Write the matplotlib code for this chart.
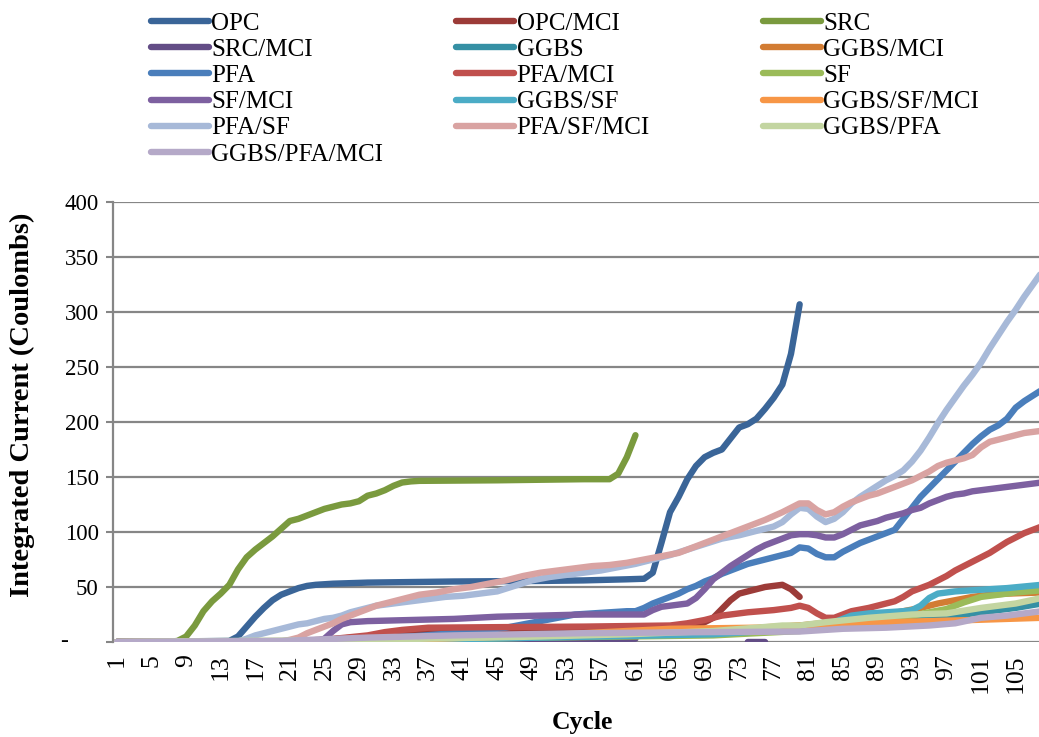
import numpy as np
import matplotlib
matplotlib.use("Agg")
import matplotlib.pyplot as plt
from matplotlib.lines import Line2D

plt.rcParams['font.family'] = ["Liberation Serif", "DejaVu Serif"]

# ---- data: (cycle, integrated current) ----
OPC_x = [1, 14, 15, 16, 17, 18, 19, 20, 21, 22, 23, 24, 26, 30, 40, 50, 55, 60, 62, 63, 64, 65, 66,
         67, 68, 69, 70, 71, 72, 73, 74, 75, 76, 77, 78, 79, 80]
OPC_y = [0, 1, 5, 14, 23, 31, 38, 43, 46, 49, 51, 52, 53, 54, 55, 55.5, 56, 57, 57.5, 63, 90, 118, 132,
         148, 160, 168, 172, 175, 185, 195, 198, 203, 212, 222, 234, 262, 307]

OPCMCI_x = [1, 20, 25, 30, 35, 40, 50, 60, 68, 69, 70, 71, 72, 73, 74, 75, 76, 77, 78, 79, 80]
OPCMCI_y = [0, 0.5, 2, 5, 9, 11, 12, 13, 14, 18, 22, 30, 38, 44, 46, 48, 50, 51, 52, 48, 41]

SRC_x = [1, 7, 8, 9, 10, 11, 12, 13, 14, 15, 16, 17, 18, 19, 20, 21, 22, 23, 24, 25, 26, 27, 28, 29,
         30, 31, 32, 33, 34, 35, 36, 45, 55, 58, 59, 60, 61]
SRC_y = [0, 0, 1, 5, 15, 28, 37, 44, 52, 66, 77, 84, 90, 96, 103, 110, 112, 115, 118, 121, 123, 125,
         126, 128, 133, 135, 138, 142, 145, 146, 146.5, 147, 148, 148, 153, 168, 188]

SRCMCI_x = [1, 20, 40, 61, 62, 73, 74, 75, 76]
SRCMCI_y = [0, 0.5, 1.5, 3, np.nan, np.nan, 0, 0, 0]

GGBS_x = [1, 20, 40, 60, 70, 80, 85, 90, 95, 100, 105, 108]
GGBS_y = [0, 0.5, 3, 6, 8, 11, 14, 17, 21, 26, 31, 35]

GGBSMCI_x = [1, 30, 50, 65, 75, 80, 85, 88, 90, 92, 94, 96, 98, 100, 102, 104, 108]
GGBSMCI_y = [0, 1, 5, 9, 12, 15, 19, 22, 25, 28, 31, 35, 38, 41, 43, 44, 45]

PFA_x = [1, 20, 30, 35, 40, 44, 46, 48, 50, 52, 54, 56, 58, 60, 61, 62, 63, 64, 65, 66, 67, 68, 69,
         70, 71, 72, 73, 74, 75, 76, 77, 78, 79, 80, 81, 82, 83, 84, 85, 86, 87, 88, 89, 90, 91, 92,
         93, 94, 95, 96, 97, 98, 99, 100, 101, 102, 103, 104, 105, 106, 107, 108]
PFA_y = [0, 0.5, 3, 5, 8, 11, 13, 16, 19, 22, 25, 26, 27, 28, 28, 31, 35, 38, 41, 44, 48, 51, 55,
         58, 62, 65, 68, 71, 73, 75, 77, 79, 81, 86, 85, 80, 77, 77, 82, 86, 90, 93, 96, 99, 102, 112,
         122, 132, 140, 148, 156, 164, 172, 180, 187, 193, 197, 203, 213, 219, 224, 229]

PFAMCI_x = [1, 20, 25, 30, 32, 34, 37, 45, 55, 65, 67, 69, 71, 74, 77, 79, 80, 81, 82, 83, 84, 85,
            86, 88, 90, 91, 92, 93, 95, 96, 97, 98, 99, 100, 101, 102, 103, 104, 105, 106, 107, 108]
PFAMCI_y = [0, 0.5, 2, 6, 9, 11, 13, 13.5, 14, 15, 17, 20, 24, 27, 29, 31, 33, 31, 26, 22, 22, 25,
            28, 31, 35, 37, 41, 46, 52, 56, 60, 65, 69, 73, 77, 81, 86, 91, 95, 99, 102, 105]

SF_x = [1, 30, 50, 70, 80, 85, 90, 93, 95, 97, 99, 101, 103, 105, 108]
SF_y = [0, 1, 4, 6, 10, 16, 21, 24, 27, 30, 36, 41, 43, 45, 47]

SFMCI_x = [1, 24, 25, 26, 27, 28, 30, 35, 40, 45, 50, 55, 62, 63, 64, 65, 66, 67, 68, 69, 70, 71,
           72, 73, 74, 75, 76, 77, 78, 79, 80, 81, 82, 83, 84, 85, 86, 87, 88, 89, 90, 91, 92, 93,
           94, 95, 96, 97, 98, 99, 100, 101, 102, 103, 104, 105, 106, 107, 108]
SFMCI_y = [0, 0.5, 3, 10, 16, 18, 19, 20, 21, 23, 24, 25, 25, 29, 32, 33, 34, 35, 40, 48, 57, 63,
           69, 74, 79, 84, 88, 91, 94, 97, 98, 98, 97, 95, 95, 98, 102, 106, 108, 110, 113, 115, 117,
           120, 122, 126, 129, 132, 134, 135, 137, 138, 139, 140, 141, 142, 143, 144, 145]

GGBSSF_x = [1, 30, 50, 70, 80, 83, 84, 85, 86, 88, 90, 92, 93, 94, 95, 96, 98, 100, 104, 108]
GGBSSF_y = [0, 1, 4, 7, 12, 14, 18, 21, 24, 26, 27, 28, 29, 33, 40, 44, 46, 47, 49, 52]

GGBSSFMCI_x = [1, 30, 50, 60, 65, 75, 80, 85, 95, 100, 108]
GGBSSFMCI_y = [0, 1, 6, 10, 12, 13, 15, 17, 19, 20, 22]

PFASF_x = [1, 15, 16, 17, 18, 19, 20, 21, 22, 23, 24, 25, 26, 27, 28, 29, 30, 31, 32, 33, 35, 37, 39,
           41, 43, 45, 47, 49, 51, 53, 55, 57, 59, 61, 63, 65, 67, 69, 71, 73, 75, 77, 78, 79, 80,
           81, 82, 83, 84, 85, 86, 87, 88, 89, 90, 91, 92, 93, 94, 95, 96, 97, 98, 99, 100, 101,
           102, 103, 104, 105, 106, 107, 108]
PFASF_y = [0, 0.5, 3, 6, 8, 10, 12, 14, 16, 17, 19, 21, 22, 24, 27, 29, 31, 33, 34, 35, 37, 39, 41,
           42, 44, 46, 51, 56, 59, 61, 63, 65, 68, 71, 75, 79, 84, 89, 94, 97, 101, 105, 109, 116, 122,
           121, 114, 109, 112, 118, 126, 132, 137, 142, 147, 151, 156, 164, 174, 186, 199, 211, 222,
           233, 243, 254, 267, 279, 291, 302, 314, 325, 336]

PFASFMCI_x = [1, 20, 21, 22, 23, 24, 25, 26, 27, 28, 29, 30, 31, 32, 33, 34, 35, 36, 37, 38, 40, 42,
              44, 46, 48, 50, 52, 54, 56, 58, 60, 62, 64, 66, 68, 70, 72, 74, 76, 78, 79, 80, 81, 82,
              83, 84, 85, 86, 87, 88, 89, 90, 91, 92, 93, 94, 95, 96, 97, 98, 99, 100, 101, 102, 103,
              104, 105, 106, 107, 108]
PFASFMCI_y = [0, 0.5, 2, 4, 8, 11, 14, 17, 21, 24, 27, 30, 33, 35, 37, 39, 41, 43, 44, 45, 48, 50,
              53, 56, 60, 63, 65, 67, 69, 70, 72, 75, 78, 81, 87, 93, 99, 105, 111, 118, 122, 126, 126,
              120, 116, 118, 123, 127, 130, 133, 135, 138, 141, 144, 147, 151, 155, 160, 163, 165, 167,
              170, 177, 182, 184, 186, 188, 190, 191, 192]

GGBSPFA_x = [1, 30, 50, 60, 70, 75, 78, 80, 83, 88, 93, 97, 101, 105, 108]
GGBSPFA_y = [0, 2, 5, 7, 10, 13, 15, 15, 18, 22, 25, 26, 31, 35, 40]

GGBSPFAMCI_x = [1, 20, 30, 40, 55, 70, 80, 85, 90, 95, 98, 101, 104, 108]
GGBSPFAMCI_y = [0, 1, 4, 6, 8, 9, 9.5, 12, 13, 15, 17, 22, 24, 28]

names = ["OPC", "OPC/MCI", "SRC", "SRC/MCI", "GGBS", "GGBS/MCI", "PFA", "PFA/MCI", "SF",
         "SF/MCI", "GGBS/SF", "GGBS/SF/MCI", "PFA/SF", "PFA/SF/MCI", "GGBS/PFA", "GGBS/PFA/MCI"]
series = [(OPC_x, OPC_y), (OPCMCI_x, OPCMCI_y), (SRC_x, SRC_y), (SRCMCI_x, SRCMCI_y),
          (GGBS_x, GGBS_y), (GGBSMCI_x, GGBSMCI_y), (PFA_x, PFA_y), (PFAMCI_x, PFAMCI_y),
          (SF_x, SF_y), (SFMCI_x, SFMCI_y), (GGBSSF_x, GGBSSF_y), (GGBSSFMCI_x, GGBSSFMCI_y),
          (PFASF_x, PFASF_y), (PFASFMCI_x, PFASFMCI_y), (GGBSPFA_x, GGBSPFA_y),
          (GGBSPFAMCI_x, GGBSPFAMCI_y)]
colors = ["#3A6598", "#9C3B38", "#7A9A3E", "#634D86", "#3590A4", "#D27C33",
          "#4A7EBB", "#C0504D", "#9BBB59", "#7D60A0", "#4BACC6", "#F79646",
          "#A7B9D8", "#D9A3A2", "#C3D5A1", "#B5A9C8"]

xticks = list(range(1, 106, 4))
yticks = list(range(0, 401, 50))

fig = plt.figure(figsize=(10.39, 7.37), dpi=100)
ax = fig.add_axes([112.7 / 1039, 1 - 642 / 737, 1 - 112.7 / 1039, 440 / 737])

handles = []
for (x, y), name, col in zip(series, names, colors):
    ax.plot(x, y, color=col, lw=4.6, solid_capstyle="round", solid_joinstyle="round",
            label=name, zorder=3)
    handles.append(Line2D([], [], color=col, lw=4.6, solid_capstyle="round"))

ax.set_xlim(0.5, 107.7)
ax.set_ylim(0, 400)
ax.set_xticks(xticks)
ax.set_xticklabels([str(t) for t in xticks], rotation=90, va="top", ha="center")
ax.set_yticks(yticks)
ax.set_yticklabels([""] + [str(t) for t in yticks[1:]])
ax.text(-0.052, 0, "-", transform=ax.get_yaxis_transform(), ha="center", va="center", fontsize=17)
ax.tick_params(axis="x", length=0, pad=9, labelsize=18.5)
ax.tick_params(axis="y", length=5, width=1.5, color="#868686", pad=5, labelsize=16.5)
ax.grid(axis="y", color="#868686", lw=1.6, zorder=1)
ax.set_axisbelow(True)
for s in ["top", "right", "bottom"]:
    ax.spines[s].set_visible(False)
ax.spines["left"].set_color("#868686")
ax.spines["left"].set_linewidth(1.6)

fig.text(22 / 1039, 1 - 405 / 737, "Integrated Current (Coulombs)", rotation=90,
         ha="center", va="center", fontsize=20.5, fontweight="bold")
fig.text(582 / 1039, 1 - 722 / 737, "Cycle", ha="center", va="center", fontsize=18.5,
         fontweight="bold")

# legend: three separate columns, filled row by row
col_x = [151, 456, 763]
for k in range(3):
    idx = list(range(k, 16, 3))
    fig.legend([handles[i] for i in idx], [names[i] for i in idx],
               loc="upper left", bbox_to_anchor=(col_x[k] / 1039, 1 - 12 / 737),
               frameon=False, fontsize=18, handlelength=2.3, handletextpad=0.12,
               labelspacing=0.15, borderpad=0, borderaxespad=0)

fig.savefig("out.png", dpi=100)
